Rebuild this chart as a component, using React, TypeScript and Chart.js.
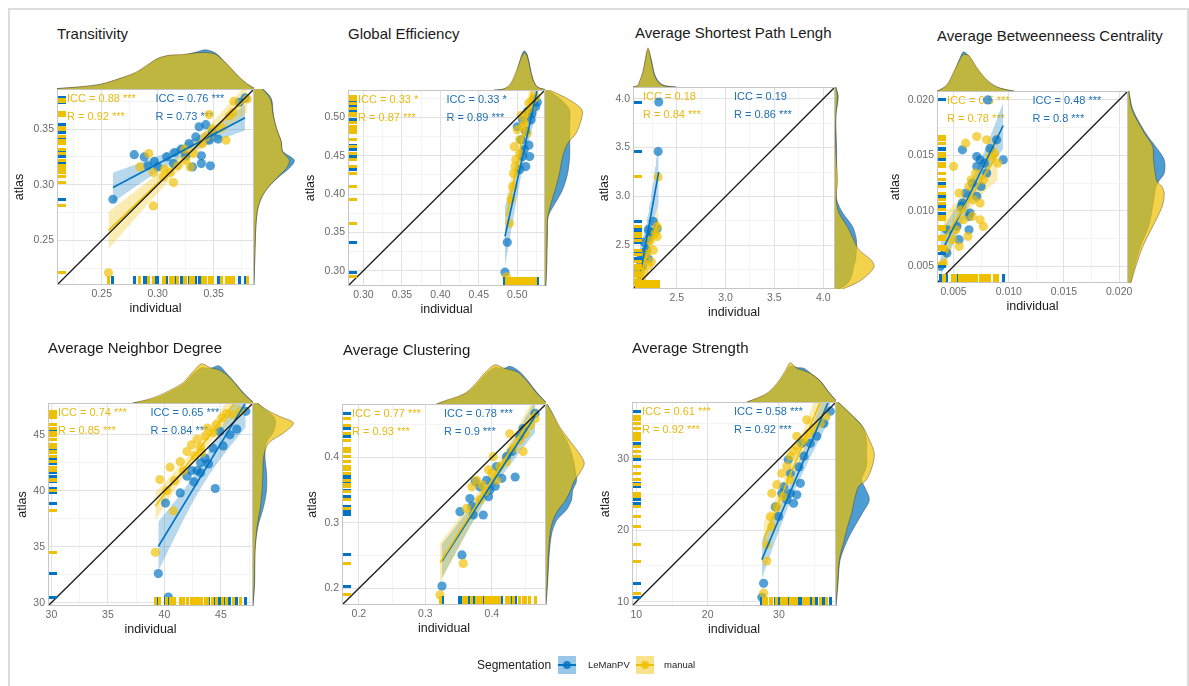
import React, { useEffect, useRef } from "react";
import { Chart, registerables } from "chart.js";
Chart.register(...registerables);

const FONT = "'Liberation Sans', Arial, Helvetica, sans-serif";
const BLUE = "#0073C2";
const YELLOW = "#EFC000";
const BLUE_FILL = "rgba(0,115,194,0.7)";
const YELLOW_FILL = "rgba(239,192,0,0.7)";
const BLUE_TEXT = "#2171b5";
const YELLOW_TEXT = "#E8BA10";

// ---------------- Transitivity ----------------
const transRange = [0.21, 0.386];
const transTicks = [0.25, 0.3, 0.35];
const transTickLabels = ["0.25", "0.30", "0.35"];
const transMinor = [0.225, 0.275, 0.325, 0.375];
const transLeManX = [0.26, 0.279, 0.288, 0.297, 0.3, 0.308, 0.315, 0.325, 0.331, 0.339, 0.347, 0.339, 0.337, 0.343, 0.349, 0.354, 0.346, 0.321, 0.328, 0.373, 0.378, 0.314, 0.291, 0.334];
const transLeManY = [0.287, 0.327, 0.325, 0.321, 0.316, 0.325, 0.329, 0.326, 0.316, 0.319, 0.317, 0.326, 0.352, 0.354, 0.347, 0.341, 0.34, 0.332, 0.337, 0.374, 0.378, 0.319, 0.317, 0.343];
const transManualX = [0.256, 0.296, 0.284, 0.296, 0.305, 0.311, 0.318, 0.324, 0.325, 0.332, 0.34, 0.343, 0.349, 0.361, 0.357, 0.364, 0.367, 0.38, 0.292, 0.314, 0.329, 0.346, 0.368, 0.306];
const transManualY = [0.221, 0.281, 0.316, 0.311, 0.307, 0.311, 0.317, 0.332, 0.322, 0.328, 0.337, 0.343, 0.35, 0.34, 0.351, 0.362, 0.365, 0.377, 0.328, 0.302, 0.316, 0.363, 0.375, 0.314];
const transTopGrid = [0.21, 0.235, 0.25, 0.265, 0.28, 0.29, 0.3, 0.31, 0.322, 0.334, 0.343, 0.352, 0.361, 0.367, 0.373, 0.38, 0.386];
const transTopLeMan = [0.01, 0.06, 0.12, 0.25, 0.4, 0.58, 0.77, 0.85, 0.86, 0.94, 1.0, 0.91, 0.65, 0.47, 0.29, 0.12, 0.02];
const transTopManual = [0.01, 0.07, 0.13, 0.26, 0.42, 0.6, 0.78, 0.86, 0.88, 0.92, 0.93, 0.88, 0.66, 0.48, 0.3, 0.13, 0.02];
const transRightGrid = [0.21, 0.235, 0.259, 0.27, 0.28, 0.289, 0.297, 0.306, 0.315, 0.322, 0.33, 0.339, 0.348, 0.357, 0.366, 0.375, 0.38, 0.386];
const transRightLeMan = [0, 0.02, 0.04, 0.06, 0.1, 0.19, 0.33, 0.57, 0.86, 0.98, 0.7, 0.66, 0.57, 0.5, 0.46, 0.44, 0.38, 0.22];
const transRightManual = [0, 0.02, 0.04, 0.06, 0.1, 0.19, 0.33, 0.55, 0.79, 0.86, 0.69, 0.66, 0.57, 0.5, 0.45, 0.42, 0.35, 0.2];
const transAnnLeMan = ["ICC = 0.76 ***", "R = 0.73 ***"];
const transAnnManual = ["ICC = 0.88 ***", "R = 0.92 ***"];

// ---------------- Global Efficiency ----------------
const geRange = [0.28, 0.536];
const geTicks = [0.3, 0.35, 0.4, 0.45, 0.5];
const geTickLabels = ["0.30", "0.35", "0.40", "0.45", "0.50"];
const geMinor = [0.325, 0.375, 0.425, 0.475, 0.525];
const geLeManX = [0.484, 0.487, 0.503, 0.511, 0.515, 0.507, 0.505, 0.511, 0.518, 0.524, 0.522, 0.513, 0.507, 0.5, 0.516, 0.509, 0.519, 0.526];
const geLeManY = [0.298, 0.337, 0.432, 0.436, 0.464, 0.449, 0.471, 0.482, 0.497, 0.514, 0.523, 0.508, 0.497, 0.488, 0.449, 0.458, 0.505, 0.52];
const geManualX = [0.486, 0.49, 0.492, 0.494, 0.495, 0.498, 0.496, 0.503, 0.5, 0.507, 0.505, 0.511, 0.515, 0.52, 0.524, 0.509, 0.503, 0.513, 0.497, 0.517];
const geManualY = [0.292, 0.362, 0.393, 0.41, 0.427, 0.445, 0.462, 0.471, 0.484, 0.488, 0.503, 0.505, 0.519, 0.523, 0.527, 0.493, 0.453, 0.48, 0.436, 0.512];
const geTopGrid = [0.47, 0.481, 0.49, 0.498, 0.505, 0.509, 0.513, 0.52, 0.526, 0.536];
const geTopLeMan = [0, 0.02, 0.1, 0.38, 0.85, 1.0, 0.9, 0.3, 0.08, 0.01];
const geTopManual = [0, 0.02, 0.13, 0.44, 0.82, 0.95, 0.85, 0.28, 0.08, 0.01];
const geRightGrid = [0.28, 0.306, 0.349, 0.371, 0.392, 0.406, 0.427, 0.449, 0.466, 0.48, 0.497, 0.51, 0.523, 0.534, 0.536];
const geRightLeMan = [0.02, 0.04, 0.06, 0.08, 0.29, 0.43, 0.55, 0.6, 0.6, 0.6, 0.6, 0.6, 0.4, 0.12, 0.06];
const geRightManual = [0.02, 0.04, 0.05, 0.07, 0.17, 0.25, 0.35, 0.43, 0.55, 0.76, 0.88, 0.9, 0.6, 0.19, 0.1];
const geAnnLeMan = ["ICC = 0.33 *", "R = 0.89 ***"];
const geAnnManual = ["ICC = 0.33 *", "R = 0.87 ***"];

// ---------------- Average Shortest Path Lengh ----------------
const asplRange = [2.053, 4.12];
const asplTicks = [2.5, 3.0, 3.5, 4.0];
const asplTickLabels = ["2.5", "3.0", "3.5", "4.0"];
const asplMinor = [2.25, 2.75, 3.25, 3.75];
const asplLeManX = [2.316, 2.31, 2.26, 2.21, 2.3, 2.17, 2.22, 2.12, 2.15, 2.19, 2.24, 2.1, 2.15, 2.21];
const asplLeManY = [3.966, 3.46, 2.745, 2.66, 2.67, 2.53, 2.58, 2.35, 2.42, 2.45, 2.63, 2.22, 2.29, 2.36];
const asplManualX = [2.31, 2.3, 2.28, 2.22, 2.19, 2.15, 2.12, 2.1, 2.14, 2.21, 2.26, 2.17, 2.09, 2.24, 2.3];
const asplManualY = [3.2, 2.69, 2.62, 2.55, 2.41, 2.33, 2.26, 2.19, 2.14, 2.29, 2.45, 2.22, 2.11, 2.33, 2.59];
const asplTopGrid = [2.053, 2.1, 2.121, 2.155, 2.18, 2.207, 2.24, 2.275, 2.326, 2.39, 2.5];
const asplTopLeMan = [0, 0.03, 0.12, 0.36, 0.68, 0.95, 0.7, 0.32, 0.11, 0.03, 0];
const asplTopManual = [0, 0.04, 0.15, 0.4, 0.72, 1.0, 0.66, 0.28, 0.09, 0.02, 0];
const asplRightGrid = [2.053, 2.11, 2.18, 2.28, 2.35, 2.455, 2.56, 2.69, 2.83, 2.97, 3.17, 3.48, 3.82, 4.02, 4.12];
const asplRightLeMan = [0.1, 0.3, 0.4, 0.45, 0.5, 0.52, 0.52, 0.43, 0.19, 0.04, 0.03, 0.04, 0.02, 0.08, 0.02];
const asplRightManual = [0.18, 0.5, 0.75, 0.95, 0.88, 0.58, 0.45, 0.3, 0.1, 0.03, 0.06, 0.02, 0.02, 0.06, 0.02];
const asplAnnLeMan = ["ICC = 0.19", "R = 0.86 ***"];
const asplAnnManual = ["ICC = 0.18", "R = 0.84 ***"];

// ---------------- Average Betweenneess Centrality ----------------
const bcRange = [0.0035, 0.0208];
const bcTicks = [0.005, 0.01, 0.015, 0.02];
const bcTickLabels = ["0.005", "0.010", "0.015", "0.020"];
const bcMinor = [0.0075, 0.0125, 0.0175];
const bcLeManX = [0.0044, 0.0053, 0.0058, 0.0064, 0.0055, 0.0071, 0.0067, 0.0074, 0.0083, 0.008, 0.0095, 0.0058, 0.0071, 0.0075, 0.0061, 0.0089, 0.0057, 0.0064, 0.0044, 0.0038, 0.0071, 0.0078, 0.0065, 0.0081];
const bcLeManY = [0.0083, 0.0086, 0.0107, 0.0095, 0.0074, 0.0113, 0.0125, 0.0146, 0.0156, 0.0134, 0.0146, 0.0155, 0.0149, 0.0122, 0.0116, 0.0164, 0.0104, 0.0083, 0.0062, 0.005, 0.014, 0.0143, 0.0098, 0.02];
const bcManualX = [0.0041, 0.0049, 0.0055, 0.0052, 0.0059, 0.0057, 0.0067, 0.0074, 0.0074, 0.0068, 0.0077, 0.007, 0.0064, 0.0083, 0.0087, 0.009, 0.008, 0.0071, 0.0061, 0.005, 0.0077, 0.0042, 0.0063, 0.0066, 0.0055];
const bcManualY = [0.0053, 0.0074, 0.0068, 0.0083, 0.0092, 0.0101, 0.0095, 0.0092, 0.0107, 0.011, 0.0128, 0.0134, 0.0122, 0.0149, 0.0152, 0.0143, 0.0164, 0.0167, 0.0161, 0.014, 0.0086, 0.0065, 0.0077, 0.0128, 0.0116];
const bcTopGrid = [0.0035, 0.0037, 0.0044, 0.005, 0.0056, 0.0059, 0.0064, 0.0071, 0.008, 0.0089, 0.01, 0.0105];
const bcTopLeMan = [0, 0.02, 0.14, 0.44, 0.85, 1.0, 0.88, 0.57, 0.27, 0.1, 0.02, 0];
const bcTopManual = [0, 0.02, 0.16, 0.48, 0.82, 0.93, 0.9, 0.6, 0.29, 0.11, 0.02, 0];
const bcRightGrid = [0.0035, 0.005, 0.0068, 0.0086, 0.0104, 0.0116, 0.0122, 0.0127, 0.0134, 0.0146, 0.0158, 0.017, 0.0191, 0.0208];
const bcRightLeMan = [0.06, 0.16, 0.3, 0.5, 0.6, 0.65, 0.68, 0.75, 0.88, 0.88, 0.67, 0.43, 0.12, 0.02];
const bcRightManual = [0.07, 0.19, 0.36, 0.6, 0.83, 0.88, 0.82, 0.7, 0.66, 0.62, 0.6, 0.4, 0.1, 0.02];
const bcAnnLeMan = ["ICC = 0.48 ***", "R = 0.8 ***"];
const bcAnnManual = ["ICC = 0.5 ***", "R = 0.78 ***"];

// ---------------- Average Neighbor Degree ----------------
const andRange = [29.7, 47.84];
const andTicks = [30, 35, 40, 45];
const andTickLabels = ["30", "35", "40", "45"];
const andMinor = [32.5, 37.5, 42.5, 47.5];
const andLeManX = [39.46, 40.35, 40.1, 41.4, 42.6, 42.9, 43.2, 42.4, 42.0, 43.2, 44.5, 43.6, 44.3, 45.2, 45.8, 46.4, 47.2, 44.9, 43.9];
const andLeManY = [32.6, 30.5, 38.9, 39.8, 40.8, 41.8, 42.5, 41.8, 41.3, 41.6, 40.2, 42.9, 43.8, 44.0, 45.0, 45.5, 47.1, 45.3, 42.4];
const andManualX = [39.2, 40.8, 40.2, 40.5, 41.4, 42.0, 42.4, 42.9, 43.2, 43.6, 43.8, 44.3, 44.6, 45.1, 45.5, 46.1, 46.7, 41.7, 40.9, 39.6, 43.3, 42.7];
const andManualY = [34.5, 38.2, 40.0, 42.1, 42.6, 43.5, 44.1, 44.6, 43.9, 44.9, 45.6, 45.2, 45.9, 46.5, 46.9, 46.8, 47.1, 41.8, 40.9, 41.0, 43.4, 43.1];
const andTopGrid = [37.2, 38.4, 39.6, 40.8, 41.7, 42.6, 43.3, 44.05, 44.8, 45.5, 46.3, 47.0, 47.6, 47.84];
const andTopLeMan = [0, 0.06, 0.16, 0.33, 0.48, 0.75, 0.9, 0.88, 0.95, 0.76, 0.5, 0.26, 0.09, 0.03];
const andTopManual = [0, 0.08, 0.2, 0.37, 0.53, 0.82, 1.0, 0.9, 0.85, 0.72, 0.48, 0.24, 0.08, 0.03];
const andRightGrid = [29.7, 31.7, 34.7, 36.8, 38.6, 40.08, 41.57, 43.06, 44.26, 45.15, 46.05, 46.65, 47.24, 47.84];
const andRightLeMan = [0, 0.04, 0.05, 0.12, 0.26, 0.33, 0.33, 0.29, 0.32, 0.48, 0.55, 0.5, 0.3, 0.1];
const andRightManual = [0, 0.03, 0.05, 0.1, 0.18, 0.22, 0.24, 0.26, 0.38, 0.74, 0.98, 0.64, 0.33, 0.1];
const andAnnLeMan = ["ICC = 0.65 ***", "R = 0.84 ***"];
const andAnnManual = ["ICC = 0.74 ***", "R = 0.85 ***"];

// ---------------- Average Clustering ----------------
const acRange = [0.1746, 0.4814];
const acTicks = [0.2, 0.3, 0.4];
const acTickLabels = ["0.2", "0.3", "0.4"];
const acMinor = [0.25, 0.35, 0.45];
const acLeManX = [0.325, 0.355, 0.367, 0.375, 0.37, 0.387, 0.372, 0.397, 0.395, 0.405, 0.415, 0.435, 0.43, 0.442, 0.447, 0.465, 0.422, 0.407, 0.392, 0.382, 0.352];
const acLeManY = [0.2035, 0.251, 0.337, 0.363, 0.325, 0.312, 0.312, 0.35, 0.34, 0.356, 0.368, 0.37, 0.409, 0.432, 0.444, 0.467, 0.401, 0.386, 0.365, 0.355, 0.317];
const acManualX = [0.322, 0.357, 0.362, 0.382, 0.39, 0.4, 0.402, 0.412, 0.422, 0.432, 0.442, 0.45, 0.457, 0.465, 0.447, 0.427, 0.385, 0.37, 0.407, 0.395, 0.377];
const acManualY = [0.19, 0.238, 0.322, 0.335, 0.348, 0.376, 0.401, 0.386, 0.393, 0.414, 0.426, 0.436, 0.449, 0.459, 0.409, 0.436, 0.358, 0.355, 0.365, 0.381, 0.365];
const acTopGrid = [0.317, 0.332, 0.347, 0.362, 0.377, 0.392, 0.405, 0.417, 0.427, 0.44, 0.452, 0.467, 0.477, 0.4814];
const acTopLeMan = [0, 0.08, 0.16, 0.28, 0.5, 0.78, 0.93, 0.9, 0.96, 0.85, 0.64, 0.31, 0.12, 0.04];
const acTopManual = [0, 0.1, 0.18, 0.3, 0.55, 0.84, 1.0, 0.92, 0.88, 0.8, 0.6, 0.29, 0.11, 0.04];
const acRightGrid = [0.175, 0.208, 0.253, 0.284, 0.304, 0.32, 0.335, 0.35, 0.363, 0.376, 0.391, 0.406, 0.426, 0.447, 0.467, 0.481];
const acRightLeMan = [0, 0.04, 0.08, 0.14, 0.26, 0.5, 0.62, 0.65, 0.74, 0.72, 0.68, 0.62, 0.5, 0.3, 0.15, 0.03];
const acRightManual = [0, 0.03, 0.06, 0.1, 0.17, 0.3, 0.48, 0.6, 0.68, 0.82, 0.93, 0.81, 0.57, 0.33, 0.16, 0.03];
const acAnnLeMan = ["ICC = 0.78 ***", "R = 0.9 ***"];
const acAnnManual = ["ICC = 0.77 ***", "R = 0.93 ***"];

// ---------------- Average Strength ----------------
const asRange = [9.39, 38.0];
const asTicks = [10, 20, 30];
const asTickLabels = ["10", "20", "30"];
const asMinor = [15, 25, 35];
const asLeManX = [27.85, 27.6, 29.95, 31.1, 31.6, 33.0, 32.5, 32.05, 30.66, 31.6, 33.5, 34.4, 35.3, 36.3, 37.2, 30.4, 31.3, 33.2, 29.5, 32.8];
const asLeManY = [12.57, 10.6, 21.93, 24.3, 25.2, 26.6, 24.98, 23.8, 26.1, 28.0, 30.4, 32.2, 33.2, 35.0, 36.7, 25.2, 29.9, 32.2, 23.3, 28.9];
const asManualX = [27.85, 28.3, 28.3, 29.0, 29.0, 29.7, 30.4, 31.1, 31.6, 32.05, 32.5, 33.5, 34.2, 34.9, 35.8, 36.6, 29.7, 30.6, 31.6, 32.5, 33.9, 28.8];
const asManualY = [11.2, 15.7, 18.0, 20.5, 25.2, 26.4, 28.0, 29.0, 30.4, 31.1, 31.8, 32.7, 33.6, 34.3, 35.0, 36.0, 23.3, 24.7, 27.1, 33.2, 35.5, 21.9];
const asTopGrid = [25.5, 26.9, 28.3, 29.7, 30.9, 31.6, 32.5, 33.5, 34.4, 35.8, 36.96, 37.9, 38.0];
const asTopLeMan = [0, 0.08, 0.2, 0.43, 0.74, 0.92, 0.88, 0.86, 0.74, 0.54, 0.26, 0.06, 0.03];
const asTopManual = [0, 0.1, 0.22, 0.47, 0.8, 1.0, 0.86, 0.8, 0.73, 0.53, 0.25, 0.06, 0.03];
const asRightGrid = [9.4, 12.6, 15.85, 18.66, 20.5, 22.4, 24.3, 26.15, 27.1, 28.96, 30.8, 32.7, 34.6, 36.45, 38.0];
const asRightLeMan = [0, 0.05, 0.1, 0.28, 0.45, 0.64, 0.81, 0.69, 0.62, 0.74, 0.74, 0.74, 0.64, 0.33, 0.05];
const asRightManual = [0, 0.04, 0.08, 0.2, 0.28, 0.38, 0.45, 0.55, 0.74, 0.88, 0.93, 0.81, 0.64, 0.33, 0.05];
const asAnnLeMan = ["ICC = 0.58 ***", "R = 0.92 ***"];
const asAnnManual = ["ICC = 0.61 ***", "R = 0.92 ***"];

// ---------------- layout ----------------
const PADT = 6;
const PADR = 6;
const XH = 40;
const TOPH = 40;
const RW = 42;

const panels = [
  { title: "Transitivity", range: transRange, ticks: transTicks, tickLabels: transTickLabels, minor: transMinor,
    leman: { x: transLeManX, y: transLeManY }, manual: { x: transManualX, y: transManualY },
    top: { grid: transTopGrid, leman: transTopLeMan, manual: transTopManual },
    right: { grid: transRightGrid, leman: transRightLeMan, manual: transRightManual },
    ann: { leman: transAnnLeMan, manual: transAnnManual },
    box: { l: 57, t: 89, w: 197, h: 196, yW: 47 }, tpos: { x: 57, base: 39 } },
  { title: "Global Efficiency", range: geRange, ticks: geTicks, tickLabels: geTickLabels, minor: geMinor,
    leman: { x: geLeManX, y: geLeManY }, manual: { x: geManualX, y: geManualY },
    top: { grid: geTopGrid, leman: geTopLeMan, manual: geTopManual },
    right: { grid: geRightGrid, leman: geRightLeMan, manual: geRightManual },
    ann: { leman: geAnnLeMan, manual: geAnnManual },
    box: { l: 348, t: 90, w: 197, h: 196, yW: 47 }, tpos: { x: 348, base: 39 } },
  { title: "Average Shortest Path Lengh", range: asplRange, ticks: asplTicks, tickLabels: asplTickLabels, minor: asplMinor,
    leman: { x: asplLeManX, y: asplLeManY }, manual: { x: asplManualX, y: asplManualY },
    top: { grid: asplTopGrid, leman: asplTopLeMan, manual: asplTopManual },
    right: { grid: asplRightGrid, leman: asplRightLeMan, manual: asplRightManual },
    ann: { leman: asplAnnLeMan, manual: asplAnnManual },
    box: { l: 633, t: 87, w: 202, h: 202, yW: 38 }, tpos: { x: 635, base: 38 } },
  { title: "Average Betweenneess Centrality", range: bcRange, ticks: bcTicks, tickLabels: bcTickLabels, minor: bcMinor,
    leman: { x: bcLeManX, y: bcLeManY }, manual: { x: bcManualX, y: bcManualY },
    top: { grid: bcTopGrid, leman: bcTopLeMan, manual: bcTopManual },
    right: { grid: bcRightGrid, leman: bcRightLeMan, manual: bcRightManual },
    ann: { leman: bcAnnLeMan, manual: bcAnnManual },
    box: { l: 937, t: 91, w: 191, h: 192, yW: 51 }, tpos: { x: 937, base: 41 } },
  { title: "Average Neighbor Degree", range: andRange, ticks: andTicks, tickLabels: andTickLabels, minor: andMinor,
    leman: { x: andLeManX, y: andLeManY }, manual: { x: andManualX, y: andManualY },
    top: { grid: andTopGrid, leman: andTopLeMan, manual: andTopManual },
    right: { grid: andRightGrid, leman: andRightLeMan, manual: andRightManual },
    ann: { leman: andAnnLeMan, manual: andAnnManual },
    box: { l: 48, t: 403, w: 205, h: 203, yW: 35 }, tpos: { x: 48, base: 353 } },
  { title: "Average Clustering", range: acRange, ticks: acTicks, tickLabels: acTickLabels, minor: acMinor,
    leman: { x: acLeManX, y: acLeManY }, manual: { x: acManualX, y: acManualY },
    top: { grid: acTopGrid, leman: acTopLeMan, manual: acTopManual },
    right: { grid: acRightGrid, leman: acRightLeMan, manual: acRightManual },
    ann: { leman: acAnnLeMan, manual: acAnnManual },
    box: { l: 342, t: 404, w: 204, h: 201, yW: 39 }, tpos: { x: 343, base: 355 } },
  { title: "Average Strength", range: asRange, ticks: asTicks, tickLabels: asTickLabels, minor: asMinor,
    leman: { x: asLeManX, y: asLeManY }, manual: { x: asManualX, y: asManualY },
    top: { grid: asTopGrid, leman: asTopLeMan, manual: asTopManual },
    right: { grid: asRightGrid, leman: asRightLeMan, manual: asRightManual },
    ann: { leman: asAnnLeMan, manual: asAnnManual },
    box: { l: 632, t: 402, w: 204, h: 204, yW: 36 }, tpos: { x: 632, base: 353 } },
];

// linear model fit with 95% confidence band (as geom_smooth(method = "lm"))
function linFit(xs: number[], ys: number[]) {
  const n = xs.length;
  const mx = xs.reduce((a, b) => a + b, 0) / n;
  const my = ys.reduce((a, b) => a + b, 0) / n;
  let sxx = 0, sxy = 0;
  for (let i = 0; i < n; i++) {
    sxx += (xs[i] - mx) * (xs[i] - mx);
    sxy += (xs[i] - mx) * (ys[i] - my);
  }
  const b = sxy / sxx;
  const a = my - b * mx;
  let sse = 0;
  for (let i = 0; i < n; i++) sse += Math.pow(ys[i] - a - b * xs[i], 2);
  const s = Math.sqrt(sse / (n - 2));
  const tq = 1.96 + 2.4 / (n - 2);
  const x0 = Math.min(...xs), x1 = Math.max(...xs);
  const line = [{ x: x0, y: a + b * x0 }, { x: x1, y: a + b * x1 }];
  const lower: any[] = [], upper: any[] = [];
  const K = 30;
  for (let k = 0; k <= K; k++) {
    const x = x0 + ((x1 - x0) * k) / K;
    const yh = a + b * x;
    const se = s * Math.sqrt(1 / n + ((x - mx) * (x - mx)) / sxx);
    lower.push({ x, y: yh - tq * se });
    upper.push({ x, y: yh + tq * se });
  }
  return { line, lower, upper };
}

function rugImage(color: string) {
  const c = document.createElement("canvas");
  c.width = 18;
  c.height = 3;
  const g = c.getContext("2d")!;
  g.fillStyle = color;
  g.fillRect(9, 0, 9, 3);
  return c;
}

function buildMain(canvas: HTMLCanvasElement, p: any) {
  const [lo, hi] = p.range;
  const all = [...p.ticks, ...p.minor].sort((a: number, b: number) => a - b);
  const eq = (a: number, b: number) => Math.abs(a - b) < (hi - lo) * 1e-6;
  const majorIdx = (v: number) => p.ticks.findIndex((t: number) => eq(t, v));
  const fitB = linFit(p.leman.x, p.leman.y);
  const fitY = linFit(p.manual.x, p.manual.y);
  const pts = (s: any) => s.x.map((x: number, i: number) => ({ x, y: s.y[i] }));
  const rugL = (ys: number[]) => ys.map((y) => ({ x: lo, y }));
  const rugB = (xs: number[]) => xs.map((x) => ({ x, y: lo }));
  const imgB = rugImage(BLUE);
  const imgY = rugImage(YELLOW);
  const none = "rgba(0,0,0,0)";

  const datasets: any[] = [
    { type: "line", data: fitB.lower, borderColor: none, borderWidth: 0, pointRadius: 0, fill: false, order: 10 },
    { type: "line", data: fitB.upper, borderColor: none, borderWidth: 0, pointRadius: 0, fill: "-1", backgroundColor: "rgba(0,115,194,0.28)", order: 10 },
    { type: "line", data: fitY.lower, borderColor: none, borderWidth: 0, pointRadius: 0, fill: false, order: 9 },
    { type: "line", data: fitY.upper, borderColor: none, borderWidth: 0, pointRadius: 0, fill: "-1", backgroundColor: "rgba(239,192,0,0.3)", order: 9 },
    { type: "scatter", data: pts(p.leman), pointRadius: 4.6, backgroundColor: "rgba(0,115,194,0.68)", borderWidth: 0, order: 8 },
    { type: "scatter", data: pts(p.manual), pointRadius: 4.6, backgroundColor: "rgba(239,192,0,0.68)", borderWidth: 0, order: 7 },
    { type: "line", data: fitB.line, borderColor: BLUE, borderWidth: 1.6, pointRadius: 0, fill: false, order: 6 },
    { type: "line", data: fitY.line, borderColor: YELLOW, borderWidth: 1.6, pointRadius: 0, fill: false, order: 5 },
    { type: "line", data: [{ x: lo, y: lo }, { x: hi, y: hi }], borderColor: "#1a1a1a", borderWidth: 1.3, pointRadius: 0, fill: false, order: 4 },
    { type: "scatter", data: rugL(p.leman.y), pointStyle: imgB, pointRadius: 1, rotation: 0, order: 3 },
    { type: "scatter", data: rugB(p.leman.x), pointStyle: imgB, pointRadius: 1, rotation: -90, order: 3 },
    { type: "scatter", data: rugL(p.manual.y), pointStyle: imgY, pointRadius: 1, rotation: 0, order: 2 },
    { type: "scatter", data: rugB(p.manual.x), pointStyle: imgY, pointRadius: 1, rotation: -90, order: 2 },
  ];

  const axis = (isX: boolean, title: string) => ({
    type: "linear",
    min: lo,
    max: hi,
    afterBuildTicks: (s: any) => {
      s.ticks = all.map((v: number) => ({ value: v }));
    },
    afterFit: (s: any) => {
      if (isX) {
        s.height = XH;
        s.paddingLeft = 0;
        s.paddingRight = 0;
      } else {
        s.width = p.box.yW;
        s.paddingTop = 0;
        s.paddingBottom = 0;
      }
    },
    ticks: {
      autoSkip: false,
      maxRotation: 0,
      padding: 3,
      color: "#6a6a6a",
      font: { family: FONT, size: 10.5 },
      callback: (v: number) => {
        const i = majorIdx(v);
        return i >= 0 ? p.tickLabels[i] : "";
      },
    },
    grid: {
      drawTicks: false,
      color: (c: any) => (c.tick && majorIdx(c.tick.value) >= 0 ? "#e2e2e2" : "#f1f1f1"),
      lineWidth: (c: any) => (c.tick && majorIdx(c.tick.value) >= 0 ? 1 : 0.8),
    },
    border: { display: false },
    title: {
      display: true,
      text: title,
      color: "#1a1a1a",
      font: { family: FONT, size: 12.5 },
      padding: isX ? { top: 0, bottom: 8.5 } : { top: 2, bottom: 0 },
    },
  });

  const annot = {
    id: "annot",
    beforeDatasetsDraw(chart: any) {
      const { ctx, chartArea } = chart;
      const { left, top, width } = chartArea;
      ctx.save();
      ctx.font = `11px ${FONT}`;
      ctx.textBaseline = "middle";
      ctx.textAlign = "left";
      ctx.fillStyle = YELLOW_TEXT;
      ctx.fillText(p.ann.manual[0], left + 10, top + 10);
      ctx.fillText(p.ann.manual[1], left + 10, top + 28);
      ctx.fillStyle = BLUE_TEXT;
      ctx.fillText(p.ann.leman[0], left + width * 0.5, top + 10);
      ctx.fillText(p.ann.leman[1], left + width * 0.5, top + 28);
      ctx.restore();
    },
    afterDraw(chart: any) {
      const { ctx, chartArea } = chart;
      ctx.save();
      ctx.strokeStyle = "#c6c6c6";
      ctx.lineWidth = 1;
      ctx.strokeRect(chartArea.left + 0.5, chartArea.top + 0.5, chartArea.width - 1, chartArea.height - 1);
      ctx.restore();
    },
  };

  return new Chart(canvas, {
    type: "scatter",
    data: { datasets },
    options: {
      animation: false,
      responsive: false,
      events: [],
      layout: { padding: { top: PADT, right: PADR, left: 0, bottom: 0 } },
      plugins: { legend: { display: false }, tooltip: { enabled: false } },
      scales: { x: axis(true, "individual"), y: axis(false, "atlas") },
    } as any,
    plugins: [annot],
  } as any);
}

function densityDatasets(d: any, horizontal: boolean) {
  const mk = (vals: number[], fill: string, order: number) => ({
    data: d.grid.map((g: number, i: number) => (horizontal ? { x: vals[i], y: g } : { x: g, y: vals[i] })),
    fill: "origin",
    backgroundColor: fill,
    borderColor: "rgba(25,25,25,0.5)",
    borderWidth: 0.7,
    pointRadius: 0,
    tension: 0.3,
    order,
  });
  // LeManPV drawn first, manual on top (lower order = drawn later)
  return [mk(d.leman, BLUE_FILL, 2), mk(d.manual, YELLOW_FILL, 1)];
}

function buildMarginal(canvas: HTMLCanvasElement, p: any, horizontal: boolean) {
  const [lo, hi] = p.range;
  const d = horizontal ? p.right : p.top;
  const valueScale = { type: "linear", min: 0, max: 1.02, display: false };
  const posScale = { type: "linear", min: lo, max: hi, display: false };
  return new Chart(canvas, {
    type: "line",
    data: { datasets: densityDatasets(d, horizontal) },
    options: {
      animation: false,
      responsive: false,
      events: [],
      indexAxis: horizontal ? "y" : "x",
      layout: { padding: 0 },
      plugins: { legend: { display: false }, tooltip: { enabled: false } },
      scales: horizontal ? { x: valueScale, y: posScale } : { x: posScale, y: valueScale },
    } as any,
  } as any);
}

function Panel({ p }: { p: any }) {
  const mainRef = useRef<HTMLCanvasElement>(null);
  const topRef = useRef<HTMLCanvasElement>(null);
  const rightRef = useRef<HTMLCanvasElement>(null);
  useEffect(() => {
    const charts = [
      buildMarginal(topRef.current!, p, false),
      buildMarginal(rightRef.current!, p, true),
      buildMain(mainRef.current!, p),
    ];
    return () => charts.forEach((c) => c.destroy());
  }, [p]);
  const { l, t, w, h, yW } = p.box;
  const mw = yW + w + PADR;
  const mh = PADT + h + XH;
  return (
    <>
      <div
        style={{ position: "absolute", left: p.tpos.x, top: p.tpos.base - 14.2, fontSize: 15, lineHeight: "18px", color: "#1a1a1a", whiteSpace: "nowrap" }}
      >
        {p.title}
      </div>
      <canvas ref={topRef} width={w} height={TOPH} style={{ position: "absolute", left: l, top: t - TOPH, width: w, height: TOPH }} />
      <canvas ref={rightRef} width={RW} height={h} style={{ position: "absolute", left: l + w, top: t, width: RW, height: h }} />
      <canvas ref={mainRef} width={mw} height={mh} style={{ position: "absolute", left: l - yW, top: t - PADT, width: mw, height: mh }} />
    </>
  );
}

function Key({ left, color, fill }: { left: number; color: string; fill: string }) {
  return (
    <div style={{ position: "absolute", left, top: 656, width: 18, height: 18, background: fill }}>
      <div style={{ position: "absolute", left: 0, top: 8, width: 18, height: 2, background: color }} />
      <div style={{ position: "absolute", left: 5, top: 5, width: 8, height: 8, borderRadius: 4, background: color, opacity: 0.85 }} />
    </div>
  );
}

export default function App() {
  return (
    <div style={{ position: "absolute", left: 0, top: 0, width: 1189, height: 686, background: "#fff", overflow: "hidden", fontFamily: FONT }}>
      <div style={{ position: "absolute", left: 8, top: 8, width: 1181, height: 720, border: "2px solid #dcdcdc", boxSizing: "border-box" }} />
      {panels.map((p) => (
        <Panel key={p.title} p={p} />
      ))}
      <div style={{ position: "absolute", left: 477, top: 657, fontSize: 12, lineHeight: "16px", color: "#1a1a1a", whiteSpace: "nowrap" }}>Segmentation</div>
      <Key left={558} color={BLUE} fill="rgba(0,115,194,0.4)" />
      <div style={{ position: "absolute", left: 588, top: 659, fontSize: 9.5, lineHeight: "12px", color: "#1a1a1a", whiteSpace: "nowrap" }}>LeManPV</div>
      <Key left={636} color={YELLOW} fill="rgba(239,192,0,0.45)" />
      <div style={{ position: "absolute", left: 664, top: 659, fontSize: 9.5, lineHeight: "12px", color: "#1a1a1a", whiteSpace: "nowrap" }}>manual</div>
    </div>
  );
}
